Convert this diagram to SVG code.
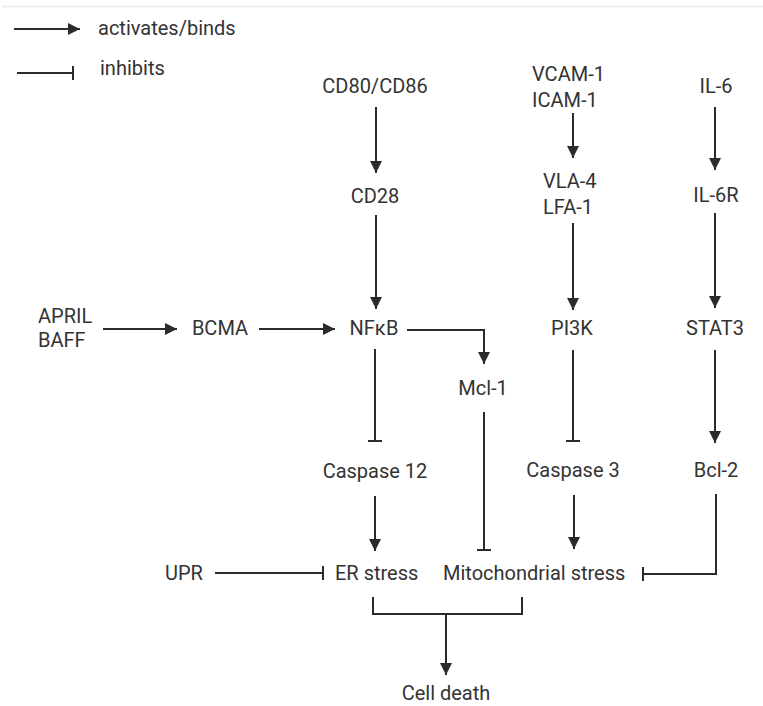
<svg xmlns="http://www.w3.org/2000/svg" width="763" height="706" viewBox="0 0 763 706">
<defs>
<marker id="arr" markerUnits="userSpaceOnUse" markerWidth="14" markerHeight="14" refX="12" refY="6" orient="auto">
<path d="M0,0 L12,6 L0,12 z" fill="#2b2b2b"/>
</marker>
<marker id="inh" markerUnits="userSpaceOnUse" markerWidth="4" markerHeight="16" refX="1" refY="7" orient="auto">
<line x1="1" y1="0" x2="1" y2="14" stroke="#2b2b2b" stroke-width="2"/>
</marker>
<style>
text{font-family:Roboto,"Liberation Sans",sans-serif;font-size:20px;fill:#333}
.c{text-anchor:middle}
.l{fill:none;stroke:#2b2b2b;stroke-width:2}
.a{marker-end:url(#arr)}
.i{marker-end:url(#inh)}
</style>
</defs>
<rect width="763" height="706" fill="#fff"/>
<line x1="2" y1="6.5" x2="763" y2="6.5" stroke="#eeeeee" stroke-width="2"/>
<g id="legend">
<line class="l a" x1="14" y1="29" x2="80" y2="29"/>
<text x="98" y="35">activates/binds</text>
<line class="l i" x1="17" y1="73" x2="73" y2="73"/>
<text x="100" y="75">inhibits</text>
</g>
<g id="connectors">
<line class="l a" x1="376" y1="107" x2="376" y2="173"/>
<line class="l a" x1="376" y1="215" x2="376" y2="309"/>
<line class="l a" x1="573" y1="113" x2="573" y2="158"/>
<line class="l a" x1="573" y1="223" x2="573" y2="310"/>
<line class="l a" x1="715" y1="107" x2="715" y2="170"/>
<line class="l a" x1="715" y1="213" x2="715" y2="308"/>
<line class="l a" x1="715" y1="350" x2="715" y2="443"/>
<line class="l a" x1="103" y1="329" x2="177" y2="329"/>
<line class="l a" x1="259" y1="329" x2="335" y2="329"/>
<path class="l a" d="M407,330 H484 V364"/>
<line class="l i" x1="375" y1="349" x2="375" y2="441"/>
<line class="l i" x1="573" y1="350" x2="573" y2="441"/>
<line class="l i" x1="484" y1="412" x2="484" y2="550"/>
<line class="l a" x1="375" y1="496" x2="375" y2="551"/>
<line class="l a" x1="574" y1="495" x2="574" y2="549"/>
<path class="l i" d="M716,494 V574 H643"/>
<line class="l i" x1="215" y1="573" x2="323" y2="573"/>
<path class="l" d="M373,597 V614 H522 V597"/>
<line class="l a" x1="446" y1="614" x2="446" y2="675"/>
</g>
<g id="n-cd80"><text class="c" x="375" y="93">CD80/CD86</text></g>
<g id="n-cd28"><text class="c" x="375" y="203">CD28</text></g>
<g id="n-nfkb"><text class="c" x="374" y="335">NFκB</text></g>
<g id="n-vcam"><text x="532" y="81">VCAM-1</text><text x="532" y="107">ICAM-1</text></g>
<g id="n-vla"><text x="543" y="188">VLA-4</text><text x="543" y="214">LFA-1</text></g>
<g id="n-pi3k"><text class="c" x="572" y="335">PI3K</text></g>
<g id="n-il6"><text class="c" x="716" y="93">IL-6</text></g>
<g id="n-il6r"><text class="c" x="716" y="202">IL-6R</text></g>
<g id="n-stat3"><text class="c" x="715" y="335">STAT3</text></g>
<g id="n-april"><text x="38" y="323">APRIL</text><text x="38" y="347">BAFF</text></g>
<g id="n-bcma"><text class="c" x="220" y="335">BCMA</text></g>
<g id="n-mcl1"><text class="c" x="483" y="395">Mcl-1</text></g>
<g id="n-casp12"><text class="c" x="375" y="478">Caspase 12</text></g>
<g id="n-casp3"><text class="c" x="573" y="477">Caspase 3</text></g>
<g id="n-bcl2"><text class="c" x="716" y="477">Bcl-2</text></g>
<g id="n-upr"><text x="165" y="580">UPR</text></g>
<g id="n-er"><text x="335" y="580">ER stress</text></g>
<g id="n-mito"><text x="443" y="580">Mitochondrial stress</text></g>
<g id="n-death"><text class="c" x="446" y="700">Cell death</text></g>
</svg>
